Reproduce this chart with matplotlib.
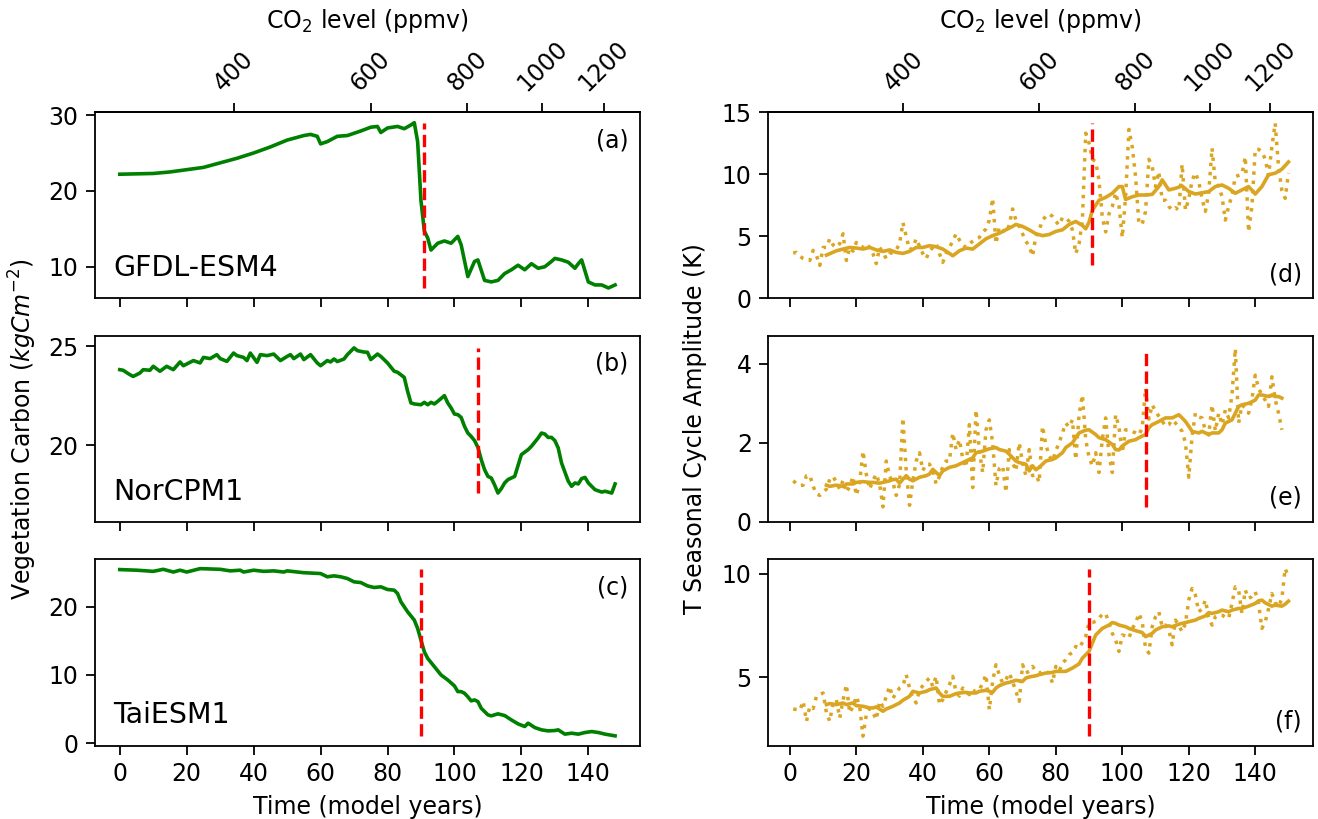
import numpy as np
import matplotlib
matplotlib.use("Agg")
import matplotlib.pyplot as plt

# ---- data ----
# vegetation carbon (kgC m-2), model years
a_years = [0, 10, 15, 20, 25, 30, 35, 40, 45, 50, 55, 57, 59, 60, 62, 65, 68, 70, 72, 75,
           77, 78, 80, 83, 85, 87, 88, 89, 90, 91, 92, 93, 95, 97, 99, 101, 102, 104, 106, 107,
           109, 111, 113, 115, 117, 119, 121, 122, 123, 125, 127, 129, 130, 132, 134, 136, 137, 138, 140, 142,
           144, 146, 148]
a_vals = [22.2, 22.3, 22.5, 22.8, 23.1, 23.7, 24.3, 25.0, 25.8, 26.7, 27.3, 27.45, 27.2, 26.2, 26.5, 27.2, 27.3, 27.6, 27.9, 28.4,
          28.5, 27.7, 28.3, 28.5, 28.2, 28.7, 29.0, 26.5, 18.7, 14.7, 13.8, 12.2, 13.1, 13.4, 13.1, 14.0, 12.9, 8.7, 10.7, 10.9,
          8.2, 8.0, 8.2, 9.1, 9.6, 10.2, 9.6, 10.0, 10.4, 9.8, 10.0, 10.7, 11.1, 10.9, 10.6, 9.8, 10.4, 10.9, 8.0, 7.6,
          7.6, 7.2, 7.6]

b_years = [0, 1, 3, 4, 6, 7, 9, 10, 12, 14, 16, 18, 19, 22, 24, 25, 27, 29, 30, 32,
           34, 35, 37, 38, 39, 41, 42, 44, 46, 48, 50, 51, 52, 54, 55, 57, 59, 60, 62, 63,
           64, 65, 67, 68, 70, 71, 73, 74, 75, 77, 78, 80, 82, 83, 85, 86, 87, 88, 90, 91,
           92, 93, 94, 95, 97, 98, 99, 100, 101, 102, 103, 104, 105, 106, 107, 108, 109, 110, 111, 112,
           113, 114, 115, 116, 118, 120, 122, 123, 125, 126, 127, 128, 129, 130, 131, 132, 134, 135, 136, 137,
           138, 139, 140, 142, 144, 145, 147, 148]
b_vals = [23.82, 23.79, 23.57, 23.48, 23.65, 23.82, 23.79, 23.99, 23.74, 23.99, 23.82, 24.21, 24.02, 24.28, 24.16, 24.44, 24.38, 24.58, 24.38, 24.24,
          24.66, 24.53, 24.44, 24.28, 24.66, 24.19, 24.58, 24.53, 24.61, 24.28, 24.49, 24.58, 24.38, 24.61, 24.33, 24.58, 24.16, 24.02, 24.28, 24.21,
          24.36, 24.23, 24.36, 24.58, 24.92, 24.78, 24.71, 24.70, 24.33, 24.61, 24.49, 24.16, 23.74, 23.69, 23.43, 22.73, 22.14, 22.09, 22.05, 22.17,
          22.05, 22.17, 22.09, 22.22, 22.51, 22.14, 21.89, 21.58, 21.55, 21.41, 20.96, 20.62, 20.45, 20.24, 19.9, 19.28, 18.77, 18.43, 18.35, 18.0,
          17.59, 17.81, 18.1, 18.27, 18.43, 19.53, 19.78, 19.95, 20.37, 20.62, 20.57, 20.40, 20.40, 20.24, 19.87, 19.11, 18.19, 17.93, 18.1, 18.05,
          18.32, 18.38, 18.1, 17.76, 17.64, 17.68, 17.59, 18.05]

c_years = [0, 5, 10, 13, 16, 18, 20, 24, 30, 33, 36, 37, 40, 43, 46, 49, 50, 55, 60, 62,
           64, 66, 68, 70, 72, 74, 76, 78, 80, 82, 83, 84, 86, 88, 89, 90, 91, 92, 94, 96,
           98, 100, 101, 102, 103, 104, 105, 106, 107, 108, 110, 111, 113, 115, 117, 119, 121, 122, 124, 126,
           128, 130, 131, 133, 135, 137, 139, 141, 143, 145, 148]
c_vals = [25.46, 25.37, 25.2, 25.5, 25.1, 25.37, 25.1, 25.6, 25.5, 25.27, 25.37, 25.1, 25.37, 25.2, 25.27, 25.1, 25.27, 25.0, 24.88, 24.4,
          24.54, 24.4, 24.15, 23.66, 23.56, 23.07, 22.83, 22.93, 22.54, 22.44, 21.95, 20.73, 19.27, 18.05, 16.83, 15.1, 13.4, 12.44, 11.22, 10.0,
          9.27, 8.4, 7.56, 7.56, 7.32, 6.8, 6.2, 6.34, 6.1, 5.12, 4.15, 4.0, 4.3, 4.05, 3.41, 2.83, 2.44, 2.93, 2.29, 1.95,
          1.8, 1.85, 1.95, 1.32, 1.46, 1.32, 1.56, 1.7, 1.56, 1.32, 1.07]

# T seasonal cycle amplitude (K): annual values (dotted) from year 1
d_annual = [3.65, 3.7, 3.4, 3.2, 3.1, 3.05, 3.86, 3.46, 2.65, 4.1,
            4.1, 4.8, 4.3, 4.1, 4.4, 5.2, 3.05, 4.1, 3.8, 4.5,
            4.2, 4.1, 4.4, 4.1, 3.6, 2.8, 4.1, 3.7, 3.2, 3.6,
            3.7, 3.9, 4.4, 6.1, 5.0, 3.9, 4.1, 4.8, 4.2, 3.6,
            3.2, 3.8, 4.1, 4.4, 3.6, 2.9, 3.6, 4.1, 4.6, 5.2,
            4.7, 4.3, 4.1, 4.4, 4.6, 4.8, 4.9, 5.3, 5.6, 6.3,
            8.05, 4.4, 5.75, 5.5, 5.3, 5.9, 7.2, 6.3, 5.8, 5.2,
            4.6, 4.2, 3.4, 5.0, 5.5, 6.3, 6.6, 6.8, 6.6, 6.2,
            5.9, 6.5, 6.5, 6.2, 5.5, 3.6, 4.4, 6.3, 13.3, 12.5,
            11.2, 11.0, 9.5, 6.5, 5.35, 6.8, 7.4, 8.5, 7.5, 4.9,
            8.2, 13.6, 12.2, 9.8, 6.0, 6.0, 7.0, 11.2, 10.6, 9.0,
            10.2, 7.9, 7.9, 7.4, 7.1, 7.3, 7.1, 10.8, 7.1, 8.0,
            9.5, 10.1, 9.4, 8.0, 7.0, 8.5, 12.1, 9.3, 9.0, 8.2,
            6.3, 7.4, 8.3, 9.8, 9.9, 10.0, 11.4, 5.35, 7.4, 12.0,
            12.0, 11.8, 11.2, 9.9, 12.2, 14.1, 10.6, 8.7, 8.05, 10.1]
e_annual = [1.04, 0.97, 0.92, 0.93, 1.17, 1.18, 0.9, 0.71, 0.67, 0.75,
            0.83, 1.08, 1.15, 1.0, 0.83, 1.05, 0.75, 0.9, 1.15, 0.67,
            1.0, 1.79, 1.2, 0.83, 1.05, 1.21, 0.95, 0.38, 1.54, 1.15,
            1.0, 0.67, 0.95, 2.63, 1.3, 0.42, 1.05, 1.54, 1.75, 1.3,
            1.46, 1.46, 1.3, 0.96, 1.15, 1.4, 1.54, 1.54, 2.25, 1.83,
            2.08, 1.6, 1.38, 2.46, 0.87, 2.83, 1.8, 1.25, 2.33, 2.58,
            2.0, 0.92, 1.35, 1.42, 0.75, 1.83, 1.5, 1.29, 2.0, 1.5,
            1.17, 1.83, 1.17, 1.2, 1.0, 2.42, 1.96, 1.67, 1.54, 1.8,
            2.0, 2.25, 2.5, 2.4, 2.58, 1.58, 2.71, 3.21, 2.08, 1.63,
            1.42, 1.75, 1.25, 2.1, 2.63, 1.7, 1.25, 2.71, 2.4, 1.75,
            2.33, 2.33, 2.29, 2.25, 2.2, 2.38, 3.38, 2.6, 2.96, 2.8,
            2.67, 2.55, 2.42, 2.46, 2.58, 2.5, 2.4, 2.29, 2.0, 1.13,
            2.17, 2.75, 2.65, 2.63, 2.3, 2.2, 2.96, 2.3, 2.75, 2.46,
            2.83, 2.63, 3.21, 4.38, 2.5, 2.96, 2.88, 2.75, 3.1, 3.71,
            3.38, 3.21, 3.08, 2.92, 3.67, 3.1, 2.75, 2.33]
f_annual = [3.48, 3.45, 3.42, 3.85, 2.89, 3.61, 3.5, 4.09, 4.17, 4.25,
            3.29, 2.89, 3.77, 3.93, 3.05, 3.9, 4.65, 3.29, 3.6, 4.09,
            3.6, 2.17, 3.21, 3.5, 3.3, 2.97, 3.85, 3.6, 4.09, 4.57,
            4.0, 4.25, 4.49, 4.6, 5.13, 4.5, 4.01, 3.77, 4.4, 4.6,
            4.81, 4.97, 4.57, 5.05, 3.69, 3.93, 4.3, 4.65, 5.05, 4.3,
            4.1, 4.49, 4.3, 4.17, 4.4, 4.3, 4.4, 4.73, 5.13, 3.45,
            4.81, 5.61, 5.13, 4.73, 4.9, 5.21, 4.8, 4.33, 3.85, 5.61,
            5.21, 5.3, 5.53, 5.3, 5.2, 5.29, 5.3, 5.2, 4.73, 5.53,
            5.3, 5.69, 5.85, 6.09, 6.2, 6.49, 6.4, 6.68, 6.97, 7.64,
            7.64, 7.7, 7.84, 8.05, 8.08, 7.6, 7.12, 6.81, 6.25, 7.04,
            7.0, 6.89, 7.36, 7.6, 8.08, 7.68, 6.4, 6.17, 7.44, 7.92,
            8.16, 7.44, 7.52, 7.3, 6.57, 7.76, 7.5, 7.2, 7.6, 8.72,
            9.28, 8.96, 8.16, 8.3, 8.72, 7.9, 7.52, 7.92, 8.0, 8.0,
            7.9, 7.84, 8.56, 9.36, 9.2, 8.08, 9.2, 8.8, 8.9, 9.12,
            8.56, 7.36, 7.68, 8.3, 9.04, 8.6, 8.4, 8.8, 10.24, 9.84]

# running-mean curves (solid)
d_sm_years = [11, 14, 16, 18, 20, 22, 24, 26, 28, 30, 32, 34, 36, 38, 40, 42, 44, 46, 48, 49,
              51, 53, 55, 57, 59, 61, 63, 65, 67, 68, 70, 72, 74, 76, 78, 80, 82, 84, 86, 88,
              89, 90, 91, 93, 95, 97, 99, 100, 101, 103, 105, 107, 109, 111, 112, 114, 116, 118, 120, 122,
              124, 126, 128, 130, 132, 134, 136, 138, 140, 142, 144, 146, 148, 150]
d_sm = [3.48, 3.83, 3.97, 4.1, 4.05, 3.97, 4.1, 3.9, 3.78, 3.9, 3.7, 3.62, 3.78, 4.1, 4.1, 4.24, 4.16, 3.97, 3.62, 3.43,
        3.83, 4.05, 3.97, 4.38, 4.8, 5.05, 5.24, 5.52, 5.79, 5.95, 5.79, 5.52, 5.2, 5.05, 5.14, 5.39, 5.52, 5.95, 6.19, 5.87,
        5.6, 6.14, 7.09, 7.9, 8.13, 8.46, 9.0, 9.0, 7.96, 8.18, 8.32, 8.32, 8.37, 9.0, 9.54, 8.73, 8.86, 9.05, 8.6, 8.4,
        8.5, 8.6, 9.0, 9.13, 8.86, 8.46, 8.73, 9.0, 8.4, 9.0, 9.95, 10.08, 10.4, 10.98]
e_sm_years = [11, 12, 14, 16, 17, 19, 20, 22, 24, 25, 27, 28, 30, 31, 32, 33, 34, 35, 36, 37,
              39, 41, 42, 43, 45, 46, 48, 50, 52, 53, 55, 56, 58, 60, 62, 63, 65, 66, 68, 69,
              71, 72, 73, 74, 75, 76, 77, 79, 80, 82, 83, 85, 86, 87, 89, 90, 92, 93, 95, 97,
              98, 99, 100, 102, 104, 105, 107, 108, 109, 111, 113, 115, 117, 118, 119, 120, 121, 123, 124, 126,
              127, 129, 130, 131, 133, 134, 135, 136, 138, 140, 141, 142, 144, 145, 146, 147, 148]
e_sm = [0.93, 0.9, 0.93, 0.9, 0.96, 0.96, 1.0, 1.02, 1.0, 1.0, 0.98, 1.0, 1.04, 1.07, 1.08, 0.98, 1.08, 1.17, 1.08, 1.04,
        1.13, 1.17, 1.21, 1.33, 1.17, 1.29, 1.38, 1.42, 1.5, 1.54, 1.62, 1.75, 1.79, 1.85, 1.88, 1.83, 1.79, 1.71, 1.54, 1.5,
        1.46, 1.29, 1.42, 1.32, 1.38, 1.46, 1.54, 1.58, 1.62, 1.75, 1.88, 2.0, 2.13, 2.25, 2.32, 2.33, 2.21, 2.13, 2.08, 1.96,
        1.83, 1.82, 1.92, 2.04, 2.08, 2.13, 2.21, 2.38, 2.46, 2.54, 2.63, 2.63, 2.71, 2.63, 2.54, 2.42, 2.29, 2.25, 2.29, 2.21,
        2.25, 2.25, 2.33, 2.5, 2.58, 2.75, 2.92, 2.96, 3.0, 3.08, 3.21, 3.21, 3.17, 3.21, 3.17, 3.17, 3.13]
f_sm_years = [11, 12, 14, 16, 17, 19, 20, 22, 24, 25, 26, 28, 29, 31, 33, 34, 36, 37, 39, 41,
              42, 44, 45, 46, 48, 50, 51, 53, 54, 56, 57, 59, 61, 62, 63, 65, 66, 68, 70, 71,
              72, 74, 75, 77, 79, 80, 82, 83, 85, 87, 88, 90, 91, 92, 94, 96, 97, 98, 99, 101,
              102, 104, 106, 107, 109, 110, 112, 114, 115, 117, 118, 120, 122, 123, 125, 126, 127, 129, 130, 132,
              133, 135, 136, 138, 140, 141, 142, 143, 145, 146, 148, 149, 150]
f_sm = [3.69, 3.74, 3.69, 3.77, 3.69, 3.77, 3.64, 3.61, 3.53, 3.53, 3.58, 3.37, 3.48, 3.61, 3.77, 3.9, 4.09, 4.33, 4.25, 4.33,
        4.41, 4.49, 4.25, 4.09, 4.09, 4.22, 4.25, 4.28, 4.25, 4.25, 4.33, 4.38, 4.28, 4.49, 4.6, 4.73, 4.76, 4.86, 4.81, 4.97,
        5.02, 5.08, 5.13, 5.21, 5.24, 5.29, 5.29, 5.29, 5.45, 5.65, 5.93, 6.25, 6.65, 7.04, 7.36, 7.52, 7.64, 7.6, 7.52, 7.44,
        7.36, 7.25, 7.16, 6.96, 7.12, 7.28, 7.44, 7.48, 7.44, 7.56, 7.6, 7.68, 7.76, 7.84, 7.96, 8.12, 8.08, 8.16, 8.24, 8.16,
        8.24, 8.32, 8.32, 8.43, 8.56, 8.69, 8.72, 8.59, 8.43, 8.48, 8.43, 8.53, 8.67]

models = ["GFDL-ESM4", "NorCPM1", "TaiESM1"]
tip_years = [91, 107, 90]
left_tags = ["(a)", "(b)", "(c)"]
right_tags = ["(d)", "(e)", "(f)"]
co2_ticks = [400, 600, 800, 1000, 1200]

# ---- style ----
plt.rcParams.update({
    "font.size": 17,
    "axes.linewidth": 1.3,
    "xtick.major.size": 6.5, "ytick.major.size": 6.5,
    "xtick.major.width": 1.3, "ytick.major.width": 1.3,
    "xtick.major.pad": 5.5, "ytick.major.pad": 5.5,
    "axes.labelpad": 6,
})


def yr2co2(t):
    return 284.7 * 1.01 ** np.asarray(t, dtype=float)


def co22yr(c):
    c = np.maximum(np.asarray(c, dtype=float), 1e-6)
    return np.log(c / 284.7) / np.log(1.01)


fig, axs = plt.subplots(3, 2, figsize=(13.18, 8.19), dpi=100, sharex="col")
fig.subplots_adjust(left=0.0721, right=0.9964, top=0.8632, bottom=0.0897,
                    hspace=0.2, wspace=0.236)

left = [(a_years, a_vals), (b_years, b_vals), (c_years, c_vals)]
right_dot = [d_annual, e_annual, f_annual]
right_sm = [(d_sm_years, d_sm), (e_sm_years, e_sm), (f_sm_years, f_sm)]
left_ylim = [(5.83, 30.4), (16.13, 25.54), (-0.35, 26.98)]
left_yt = [[10, 20, 30], [20, 25], [0, 10, 20]]
right_ylim = [(0, 15), (0, 4.71), (1.72, 10.69)]
right_yt = [[0, 5, 10, 15], [0, 2, 4], [5, 10]]

for i in range(3):
    ax = axs[i, 0]
    yrs, vals = left[i]
    ax.plot(yrs, vals, color="green", lw=2.6)
    ax.vlines(tip_years[i], min(vals), max(vals), colors="red", linestyles="--", lw=2.4)
    ax.set_ylim(*left_ylim[i])
    ax.set_yticks(left_yt[i])
    ax.text(0.033, 0.12, models[i], transform=ax.transAxes, fontsize=20.5)
    ax.text(0.979, 0.913, left_tags[i], transform=ax.transAxes, ha="right", va="top", fontsize=17)

    ax = axs[i, 1]
    ann = right_dot[i]
    yrs_ann = np.arange(1, len(ann) + 1)
    ax.plot(yrs_ann, ann, color="goldenrod", lw=2.5, ls=":")
    sy, sv = right_sm[i]
    ax.plot(sy, sv, color="goldenrod", lw=2.6)
    ax.vlines(tip_years[i], min(ann), max(ann), colors="red", linestyles="--", lw=2.4)
    ax.set_ylim(*right_ylim[i])
    ax.set_yticks(right_yt[i])
    ax.text(0.979, 0.065, right_tags[i], transform=ax.transAxes, ha="right", va="bottom", fontsize=17)

for j in range(2):
    axs[2, j].set_xticks([0, 20, 40, 60, 80, 100, 120, 140])
    axs[2, j].set_xlabel("Time (model years)")
    sec = axs[0, j].secondary_xaxis("top", functions=(yr2co2, co22yr))
    sec.set_xticks(co2_ticks)
    sec.tick_params(axis="x", labelrotation=45)
    sec.set_xlabel("CO$_2$ level (ppmv)")

axs[1, 0].set_ylabel("Vegetation Carbon ($kgCm^{-2}$)")
axs[1, 0].yaxis.set_label_coords(-0.103, 0.5)
axs[1, 1].set_ylabel("T Seasonal Cycle Amplitude (K)")
axs[1, 1].yaxis.set_label_coords(-0.113, 0.5)

fig.savefig("out.png", dpi=100)
